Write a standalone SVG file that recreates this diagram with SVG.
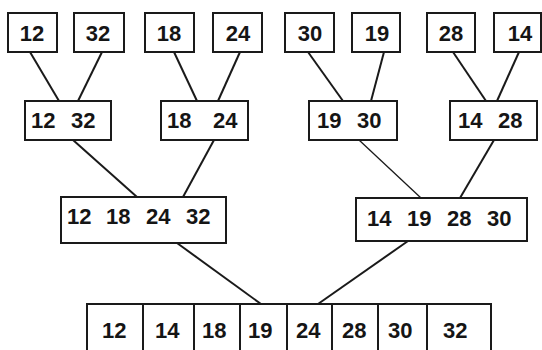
<svg xmlns="http://www.w3.org/2000/svg" width="542" height="350" viewBox="0 0 542 350">
<style>
.box{fill:#fff;stroke:#1a1a1a;stroke-width:2}
.t{font-family:"Liberation Sans",Arial,sans-serif;font-weight:bold;font-size:22px;fill:#151515}
.c{text-anchor:middle}
.ln{stroke:#1a1a1a;stroke-width:2;fill:none}
</style>
<rect width="542" height="350" fill="#fff"/>
<g id="connectors">
<line class="ln" x1="30" y1="52" x2="59" y2="101"/>
<line class="ln" x1="102" y1="52" x2="78" y2="101"/>
<line class="ln" x1="174" y1="52" x2="197" y2="101"/>
<line class="ln" x1="240" y1="52" x2="218" y2="101"/>
<line class="ln" x1="308" y1="52" x2="343" y2="101"/>
<line class="ln" x1="384" y1="52" x2="371" y2="101"/>
<line class="ln" x1="453" y1="52" x2="486" y2="101"/>
<line class="ln" x1="519" y1="52" x2="497" y2="101"/>
<line class="ln" x1="73" y1="140" x2="137" y2="197"/>
<line class="ln" x1="214" y1="140" x2="183" y2="197"/>
<line class="ln" x1="359" y1="140" x2="421" y2="198" style="stroke-width:1.3"/>
<line class="ln" x1="494" y1="140" x2="460" y2="198"/>
<line class="ln" x1="177" y1="243" x2="261" y2="304"/>
<line class="ln" x1="408" y1="241" x2="318" y2="304"/>
</g>
<g id="n12"><rect class="box" x="8" y="13" width="49" height="39"/><text class="t c" x="32" y="41">12</text></g>
<g id="n32"><rect class="box" x="74" y="13" width="50" height="39"/><text class="t c" x="98" y="41">32</text></g>
<g id="n18"><rect class="box" x="145" y="13" width="49" height="39"/><text class="t c" x="169" y="41">18</text></g>
<g id="n24"><rect class="box" x="213" y="13" width="49" height="39"/><text class="t c" x="238" y="41">24</text></g>
<g id="n30"><rect class="box" x="285" y="13" width="49" height="39"/><text class="t c" x="310" y="41">30</text></g>
<g id="n19"><rect class="box" x="352" y="13" width="48" height="39"/><text class="t c" x="377" y="41">19</text></g>
<g id="n28"><rect class="box" x="427" y="13" width="48" height="39"/><text class="t c" x="451" y="41">28</text></g>
<g id="n14"><rect class="box" x="494" y="13" width="47" height="39"/><text class="t c" x="520" y="41">14</text></g>
<g id="n1232"><rect class="box" x="25" y="101" width="86" height="39"/><text class="t" x="31" y="128">12</text><text class="t" x="71" y="128">32</text></g>
<g id="n1824"><rect class="box" x="161" y="101" width="87" height="39"/><text class="t" x="167" y="128">18</text><text class="t" x="213" y="128">24</text></g>
<g id="n1930"><rect class="box" x="309" y="101" width="88" height="39"/><text class="t" x="317" y="128">19</text><text class="t" x="357" y="128">30</text></g>
<g id="n1428"><rect class="box" x="450" y="101" width="87" height="39"/><text class="t" x="458" y="128">14</text><text class="t" x="498" y="128">28</text></g>
<g id="n12182432"><rect class="box" x="61" y="197" width="165" height="46"/><text class="t" x="67" y="224">12</text><text class="t" x="106" y="224">18</text><text class="t" x="146" y="224">24</text><text class="t" x="186" y="224">32</text></g>
<g id="n14192830"><rect class="box" x="356" y="198" width="171" height="43"/><text class="t" x="367" y="226">14</text><text class="t" x="407" y="226">19</text><text class="t" x="447" y="226">28</text><text class="t" x="487" y="226">30</text></g>
<g id="sorted">
<rect class="box" x="87" y="304" width="404" height="50"/>
<path class="ln" d="M143 304V352M194 304V352M240 304V352M287 304V352M332 304V352M378 304V352M427 304V352"/>
<text class="t" x="102" y="338">12</text>
<text class="t" x="155" y="338">14</text>
<text class="t" x="202" y="338">18</text>
<text class="t" x="248" y="338">19</text>
<text class="t" x="296" y="338">24</text>
<text class="t" x="342" y="338">28</text>
<text class="t" x="388" y="338">30</text>
<text class="t" x="443" y="338">32</text>
</g>
</svg>
